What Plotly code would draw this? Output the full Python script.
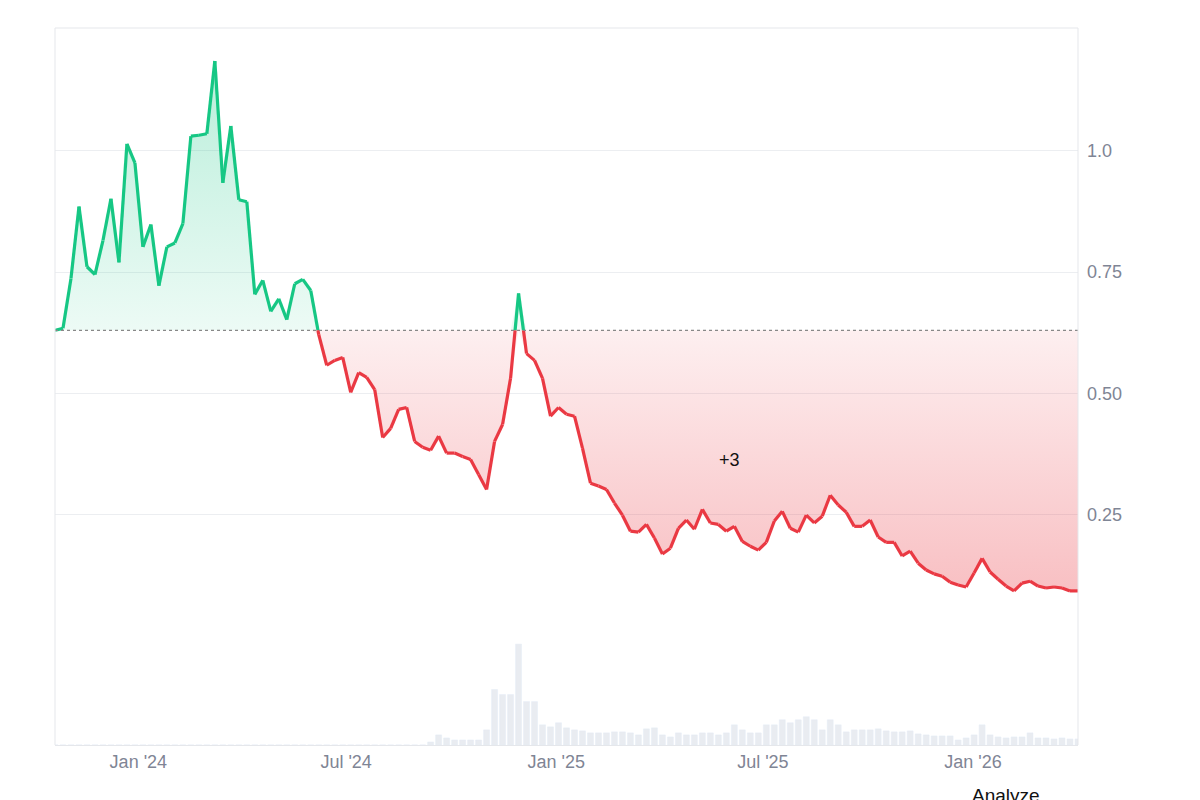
import plotly.graph_objects as go
import pandas as pd
import numpy as np

start = "2023-10-20"
prices = [0.63,0.634,0.737,0.885,0.761,0.745,0.815,0.901,0.77,1.014,0.975,0.802,0.848,0.722,0.802,0.81,0.85,1.03,1.032,1.035,1.185,0.934,1.051,0.899,0.895,0.704,0.733,0.669,0.695,0.652,0.726,0.735,0.712,0.621,0.558,0.568,0.574,0.502,0.543,0.533,0.508,0.409,0.428,0.467,0.471,0.401,0.389,0.383,0.412,0.377,0.377,0.370,0.364,0.333,0.302,0.401,0.436,0.531,0.706,0.582,0.568,0.531,0.453,0.471,0.457,0.453,0.387,0.315,0.309,0.302,0.274,0.249,0.216,0.214,0.230,0.202,0.169,0.181,0.222,0.239,0.220,0.261,0.233,0.230,0.216,0.226,0.195,0.185,0.177,0.193,0.237,0.257,0.222,0.214,0.249,0.233,0.247,0.290,0.270,0.255,0.226,0.226,0.239,0.204,0.193,0.193,0.165,0.175,0.150,0.136,0.128,0.123,0.111,0.105,0.101,0.130,0.160,0.132,0.117,0.103,0.093,0.109,0.113,0.103,0.099,0.101,0.099,0.093,0.093]
volume = [0]*47 + [3,10,7,5,5,5,5,15,55,50,50,100,43,43,20,18,22,17,15,14,12,12,12,13,13,12,10,16,17,10,8,12,10,10,12,12,10,12,20,15,12,12,20,20,25,22,25,28,25,15,25,20,13,15,15,15,16,14,13,13,14,11,10,9,9,9,5,7,10,20,10,8,7,8,8,12,7,7,6,7,6,6]
baseline = 0.63
n = len(prices)
volume = (volume + [0]*n)[:n]
dates = pd.date_range(start, periods=n, freq="7D")

GREEN = "#16c784"; RED = "#ea3943"
t = dates.astype("int64").to_numpy().astype(float)
gx, gy, rx, ry = [], [], [], []
for i in range(n - 1):
    a, b = prices[i], prices[i+1]
    if (a - baseline) * (b - baseline) < 0:
        f = (baseline - a) / (b - a)
        tc = t[i] + f * (t[i+1] - t[i])
        segs = [(t[i], a, tc, baseline), (tc, baseline, t[i+1], b)]
    else:
        segs = [(t[i], a, t[i+1], b)]
    for (x0, y0, x1, y1) in segs:
        above = (y0 + y1) / 2 >= baseline
        X, Y = (gx, gy) if above else (rx, ry)
        X += [pd.Timestamp(int(x0)), pd.Timestamp(int(x1)), None]
        Y += [y0, y1, None]

fup = [max(p, baseline) for p in prices]
fdn = [min(p, baseline) for p in prices]

fig = go.Figure()
fig.add_trace(go.Bar(x=dates, y=volume, marker_color="#e9ecf1", yaxis="y2", showlegend=False))
fig.add_trace(go.Scatter(x=dates, y=[baseline]*n, mode="lines", line=dict(width=0), hoverinfo="skip", showlegend=False))
fig.add_trace(go.Scatter(x=dates, y=fup, mode="lines", line=dict(width=0), fill="tonexty",
                         fillgradient=dict(type="vertical", colorscale=[[0, "rgba(22,199,132,0.08)"], [1, "rgba(22,199,132,0.3)"]]),
                         hoverinfo="skip", showlegend=False))
fig.add_trace(go.Scatter(x=dates, y=[baseline]*n, mode="lines", line=dict(width=0), hoverinfo="skip", showlegend=False))
fig.add_trace(go.Scatter(x=dates, y=fdn, mode="lines", line=dict(width=0), fill="tonexty",
                         fillgradient=dict(type="vertical", colorscale=[[0, "rgba(234,57,67,0.32)"], [1, "rgba(234,57,67,0.08)"]]),
                         hoverinfo="skip", showlegend=False))
fig.add_trace(go.Scatter(x=gx, y=gy, mode="lines", line=dict(color=GREEN, width=3.2), showlegend=False))
fig.add_trace(go.Scatter(x=rx, y=ry, mode="lines", line=dict(color=RED, width=3.2), showlegend=False))

fig.add_shape(type="line", xref="paper", x0=0, x1=1, yref="y", y0=baseline, y1=baseline,
              line=dict(color="#888", width=1.2, dash="dot"))
for xv in (0, 1):
    fig.add_shape(type="line", xref="paper", yref="paper", x0=xv, x1=xv, y0=0, y1=1,
                  line=dict(color="#e5e7eb", width=1))
fig.add_shape(type="line", xref="paper", yref="paper", x0=0, x1=1, y0=1, y1=1,
              line=dict(color="#e5e7eb", width=1))
fig.add_annotation(x=dates[84] + pd.Timedelta(days=3), y=0.362, text="+3", showarrow=False,
                   font=dict(size=18, color="#111"))
fig.add_annotation(xref="paper", yref="paper", x=0.965, y=-0.071, xanchor="right", yanchor="middle",
                   text="Analyze", showarrow=False, font=dict(size=19, color="#111"))

fig.update_layout(
    width=1200, height=800, margin=dict(l=47, r=130, t=20, b=63, autoexpand=False),
    paper_bgcolor="white", plot_bgcolor="white", bargap=0.25,
    font=dict(family="Liberation Sans, Arial", color="#7f8595", size=18),
    xaxis=dict(type="date", anchor="y2", range=[dates[0], dates[-1]], automargin=False,
               tickformat="%b '%y", dtick="M6", tick0="2024-01-01", showgrid=False,
               showline=True, linecolor="#e5e7eb", ticks="", zeroline=False),
    yaxis=dict(domain=[0.152, 1], range=[0, 1.253], side="right", tickvals=[0, 0.25, 0.5, 0.75, 1.0],
               ticktext=["", "0.25", "0.50", "0.75", "1.0"], gridcolor="#eceef1", zeroline=False,
               showline=False, ticks="", ticklabelstandoff=8, automargin=False),
    yaxis2=dict(domain=[0, 0.152], range=[0, 108], showticklabels=False, showgrid=False, zeroline=False,
                automargin=False),
)
fig.write_html("out.html")
